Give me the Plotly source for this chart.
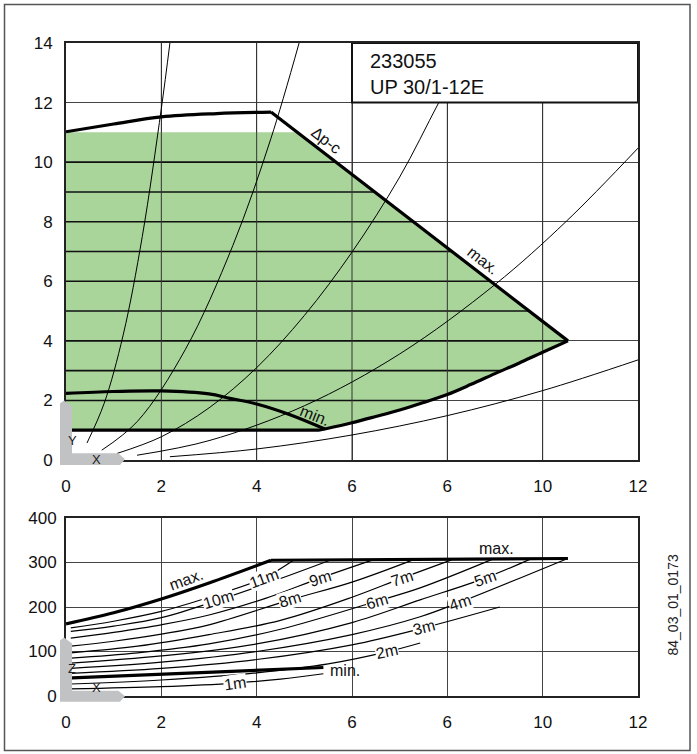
import numpy as np
import plotly.graph_objects as go

# ---------------- data ----------------
x_ticks = [0, 2, 4, 6, 8, 10, 12]
x_tick_text = ["0", "2", "4", "6", "6", "10", "12"]
y1_ticks = [0, 2, 4, 6, 8, 10, 12, 14]
y2_ticks = [0, 100, 200, 300, 400]

# top chart: head (m) vs flow (m3/h)
max_curve_x = [0, 1, 2, 3.16, 4.3]
max_curve_y = [11.02, 11.28, 11.52, 11.63, 11.68]
max_slope_x = [4.3, 10.53]
max_slope_y = [11.68, 4.0]
low_x = [10.53, 10.0, 9.5, 9.0, 8.5, 8.0, 7.5, 7.0, 6.5, 6.0, 5.43]
low_y = [4.0, 3.62, 3.25, 2.9, 2.54, 2.2, 1.93, 1.68, 1.46, 1.25, 1.04]
base_x = [5.43, 5.3, 0.12]
base_y = [1.04, 1.0, 1.0]
min_x = [0, 1, 2, 3, 3.44, 4, 4.7, 5.43]
min_y = [2.24, 2.3, 2.32, 2.22, 2.07, 1.88, 1.52, 1.04]
green_top = 11.0
green_bottom = 1.0
green_lines = [2, 3, 4, 5, 6, 7, 8, 9, 10]

sys_curves = {
    "a": ([0.44, 0.8, 1.2, 1.6, 2.0, 2.18], [0.57, 1.9, 4.2, 7.5, 11.8, 14.0]),
    "b": ([0.75, 1.5, 2.5, 3.5, 4.3, 4.89], [0.33, 1.3, 3.7, 7.2, 10.8, 14.0]),
    "c": ([1.07, 2, 3, 4, 5, 6, 7, 7.82, 8.49], [0.22, 0.78, 1.75, 3.1, 4.85, 6.98, 9.5, 12.0, 14.0]),
    "d": ([1.49, 3, 5, 7, 9, 10.5, 12], [0.16, 0.65, 1.82, 3.56, 5.89, 8.02, 10.47]),
    "e": ([2.18, 4, 6, 8, 10, 12], [0.11, 0.37, 0.84, 1.49, 2.33, 3.36]),
}

# bottom chart: power (W) vs flow
pmax_x = [0, 1, 2, 3, 4.3, 10.53]
pmax_y = [162, 187, 218, 254, 305, 309]
pmin_x = [0, 2, 4, 5.4]
pmin_y = [40, 49, 57, 64]
head_curves = {
    "11m": ([0.1, 1.0, 2.0, 3.0, 4.15, 4.77], [153, 168, 190, 222, 265, 305]),
    "10m": ([0.1, 1.0, 2.0, 3.27, 4.4, 5.54], [145, 157, 176, 218, 260, 305]),
    "9m": ([0.1, 1, 2, 3, 4.2, 5.33, 6.44], [130, 143, 160, 182, 220, 265, 306]),
    "8m": ([0.1, 1, 2, 3, 4.7, 6, 7.28], [112, 123, 139, 160, 216, 256, 306]),
    "7m": ([0.1, 1.5, 3, 4.5, 6, 7.05, 8.09], [97, 112, 138, 170, 222, 265, 306]),
    "6m": ([0.1, 1.5, 3, 4.5, 6.52, 7.43, 8.94], [85, 97, 117, 150, 213, 243, 307]),
    "5m": ([0.1, 2, 4, 6, 7.43, 8.79, 9.73], [74, 90, 117, 165, 216, 265, 307]),
    "4m": ([0.1, 2, 4, 6, 7.43, 8.27, 10.5], [62, 76, 100, 138, 178, 211, 308]),
    "3m": ([0.1, 2, 4, 6, 7.5, 9.1], [51, 62, 82, 115, 153, 200]),
    "2m": ([0.1, 2, 4, 5.5, 6.73, 7.43], [27, 36, 52, 72, 99, 119]),
    "1m": ([0.1, 2, 3.55, 4.5, 5.4], [16, 21, 29, 38, 50]),
}
head_labels = {  # label: (x, y, angle)
    "11m": (4.15, 265, -20), "10m": (3.2, 216, -17), "9m": (5.33, 265, -17),
    "8m": (4.7, 216, -17), "7m": (7.05, 265, -18), "6m": (6.52, 213, -16),
    "5m": (8.79, 265, -19), "4m": (8.27, 211, -18), "3m": (7.5, 153, -14),
    "2m": (6.73, 99, -12), "1m": (3.55, 29, -8),
}

# ---------------- layout geometry ----------------
W, H = 697, 754
ML, MR, MT, MB = 66, 59, 43, 58
PW, PH = W - ML - MR, H - MT - MB


def px(x):
    return (x - ML) / PW


def py(y):
    return (H - MB - y) / PH


top_dom = [py(460), 1.0]
bot_dom = [0.0, py(518)]

FONT = "Liberation Sans, Arial, sans-serif"
GREEN = "#A9D59B"
GRAYSYM = "#C0C2C4"

fig = go.Figure()

# green operating area
x11 = float(np.interp(green_top, [max_slope_y[1], max_slope_y[0]], [max_slope_x[1], max_slope_x[0]]))
poly_x = [0, 0, x11] + low_x + base_x[1:-1] + [0]
poly_y = [green_bottom, green_top, green_top] + low_y + base_y[1:-1] + [green_bottom]
fig.add_trace(go.Scatter(x=poly_x, y=poly_y, fill="toself", fillcolor=GREEN,
                         line=dict(width=0), mode="lines",
                         hoverinfo="skip", xaxis="x", yaxis="y"))

# horizontal lines inside the green area
edge_y = list(reversed(low_y)) + [max_slope_y[0]]
edge_x = list(reversed(low_x)) + [max_slope_x[0]]
hx, hy = [], []
for g in green_lines:
    xr = float(np.interp(g, edge_y, edge_x))
    hx += [0, xr, None]
    hy += [g, g, None]
fig.add_trace(go.Scatter(x=hx, y=hy, mode="lines", line=dict(color="#111", width=1.6),
                         hoverinfo="skip", xaxis="x", yaxis="y"))

# vertical grid over the green
vx, vy = [], []
for t in x_ticks[1:-1]:
    vx += [t, t, None]
    vy += [y1_ticks[0], y1_ticks[-1], None]
fig.add_trace(go.Scatter(x=vx, y=vy, mode="lines", line=dict(color="#333", width=1),
                         hoverinfo="skip", xaxis="x", yaxis="y"))

# system curves
for k, (cx, cy) in sys_curves.items():
    fig.add_trace(go.Scatter(x=cx, y=cy, mode="lines", line=dict(color="#000", width=1, shape="spline"),
                             hoverinfo="skip", xaxis="x", yaxis="y"))

# thick boundary lines
thick = dict(color="#000", width=3.2)
fig.add_trace(go.Scatter(x=max_curve_x, y=max_curve_y, mode="lines",
                         line=dict(thick, shape="spline"), hoverinfo="skip", xaxis="x", yaxis="y"))
fig.add_trace(go.Scatter(x=max_slope_x, y=max_slope_y, mode="lines",
                         line=thick, hoverinfo="skip", xaxis="x", yaxis="y"))
fig.add_trace(go.Scatter(x=low_x, y=low_y, mode="lines",
                         line=dict(thick, shape="spline"), hoverinfo="skip", xaxis="x", yaxis="y"))
fig.add_trace(go.Scatter(x=base_x, y=base_y, mode="lines",
                         line=thick, hoverinfo="skip", xaxis="x", yaxis="y"))
fig.add_trace(go.Scatter(x=min_x, y=min_y, mode="lines",
                         line=dict(thick, shape="spline"), hoverinfo="skip",
                         xaxis="x", yaxis="y"))

# bottom chart curves
for name, (cx, cy) in head_curves.items():
    fig.add_trace(go.Scatter(x=cx, y=cy, mode="lines", line=dict(color="#000", width=1.2, shape="spline"),
                             hoverinfo="skip", xaxis="x2", yaxis="y2"))
fig.add_trace(go.Scatter(x=pmax_x[:5], y=pmax_y[:5], mode="lines", line=dict(thick, shape="spline"),
                         hoverinfo="skip", xaxis="x2", yaxis="y2"))
fig.add_trace(go.Scatter(x=pmax_x[4:], y=pmax_y[4:], mode="lines", line=thick,
                         hoverinfo="skip", xaxis="x2", yaxis="y2"))
fig.add_trace(go.Scatter(x=pmin_x, y=pmin_y, mode="lines", line=thick,
                         hoverinfo="skip", xaxis="x2", yaxis="y2"))

ax_common = dict(showline=True, mirror=True, linecolor="#222", linewidth=2,
                 showgrid=True, gridcolor="#444", gridwidth=1, zeroline=False,
                 ticks="", tickfont=dict(family=FONT, size=17, color="#111"),
                 fixedrange=True)

fig.update_layout(
    width=W, height=H, margin=dict(l=ML, r=MR, t=MT, b=MB),
    paper_bgcolor="white", plot_bgcolor="white", showlegend=False,
    xaxis=dict(domain=[0, 1], range=[0, 12], tickvals=x_ticks, ticktext=x_tick_text,
               anchor="y", ticklabelstandoff=10, **ax_common),
    yaxis=dict(domain=top_dom, range=[0, 14], tickvals=y1_ticks, anchor="x",
               ticklabelstandoff=8, **ax_common),
    xaxis2=dict(domain=[0, 1], range=[0, 12], tickvals=x_ticks, ticktext=x_tick_text,
                anchor="y2", ticklabelstandoff=10, **ax_common),
    yaxis2=dict(domain=bot_dom, range=[0, 400], tickvals=y2_ticks, anchor="x2",
                ticklabelstandoff=4, **ax_common),
)


def sym_path(ytop, ybar_top, ybar_bot):
    pts = [(60, ybar_bot), (60, ytop + 3), (64, ytop), (72, ytop + 6), (72, ybar_top),
           (118.3, ybar_top), (125, (ybar_top + ybar_bot) / 2), (120, ybar_bot)]
    s = "M " + " L ".join(f"{px(a):.5f},{py(b):.5f}" for a, b in pts) + " Z"
    return s


shapes = [
    # outer frame
    dict(type="rect", xref="paper", yref="paper", x0=px(4.5), x1=px(690), y0=py(750.5), y1=py(4.5),
         line=dict(color="#555", width=1.5), layer="below"),
    # info box
    dict(type="rect", xref="x", yref="y", x0=6, x1=12, y0=12, y1=14,
         fillcolor="white", line=dict(color="#111", width=2), layer="above"),
    # axis symbols
    dict(type="path", xref="paper", yref="paper", path=sym_path(400.5, 453.3, 465),
         fillcolor=GRAYSYM, line=dict(width=0), layer="above"),
    dict(type="path", xref="paper", yref="paper", path=sym_path(637.5, 690.7, 701.7),
         fillcolor=GRAYSYM, line=dict(width=0), layer="above"),
]
fig.update_layout(shapes=shapes)

ann = []
tf = dict(family=FONT, size=20, color="#111")
ann.append(dict(xref="x", yref="y", x=6.34, y=13.39, text="233055", showarrow=False,
                xanchor="left", yanchor="middle", font=tf))
ann.append(dict(xref="x", yref="y", x=6.34, y=12.53, text="UP 30/1-12E", showarrow=False,
                xanchor="left", yanchor="middle", font=tf))
lf = dict(family=FONT, size=16, color="#111")
ann.append(dict(xref="x", yref="y", x=5.47, y=10.74, text="Δp-c", textangle=38, showarrow=False, font=lf))
ann.append(dict(xref="x", yref="y", x=8.75, y=6.71, text="max.", textangle=38, showarrow=False, font=lf))
ann.append(dict(xref="x", yref="y", x=5.22, y=1.51, text="min.", textangle=22, showarrow=False, font=lf))
sf = dict(family=FONT, size=13, color="#222")
ann.append(dict(xref="paper", yref="paper", x=px(66), y=py(440), text="Y", showarrow=False, font=sf))
ann.append(dict(xref="paper", yref="paper", x=px(90), y=py(459.5), text="X", showarrow=False, font=sf))
ann.append(dict(xref="paper", yref="paper", x=px(66), y=py(678), text="Z", showarrow=False, font=sf))
ann.append(dict(xref="paper", yref="paper", x=px(90), y=py(697), text="X", showarrow=False, font=sf))

mf = dict(family=FONT, size=16, color="#111")
for name, (lx, ly, ang) in head_labels.items():
    ann.append(dict(xref="x2", yref="y2", x=lx, y=ly, text=name, textangle=ang, showarrow=False,
                    font=mf, bgcolor="white", borderpad=0))
ann.append(dict(xref="x2", yref="y2", x=2.53, y=261, text="max.", textangle=-20, showarrow=False, font=mf))
ann.append(dict(xref="x2", yref="y2", x=9.04, y=332, text="max.", showarrow=False, font=mf))
ann.append(dict(xref="x2", yref="y2", x=5.5, y=58, text="min.", showarrow=False, font=mf,
                xanchor="left"))
ann.append(dict(xref="paper", yref="paper", x=px(682), y=py(658), text="84_03_01_0173",
                textangle=-90, showarrow=False, font=dict(family=FONT, size=14, color="#222")))
fig.update_layout(annotations=ann)

fig.write_html("out.html", config={"displayModeBar": False},
               post_script="document.body.style.margin='0';document.body.style.overflow='hidden';")
